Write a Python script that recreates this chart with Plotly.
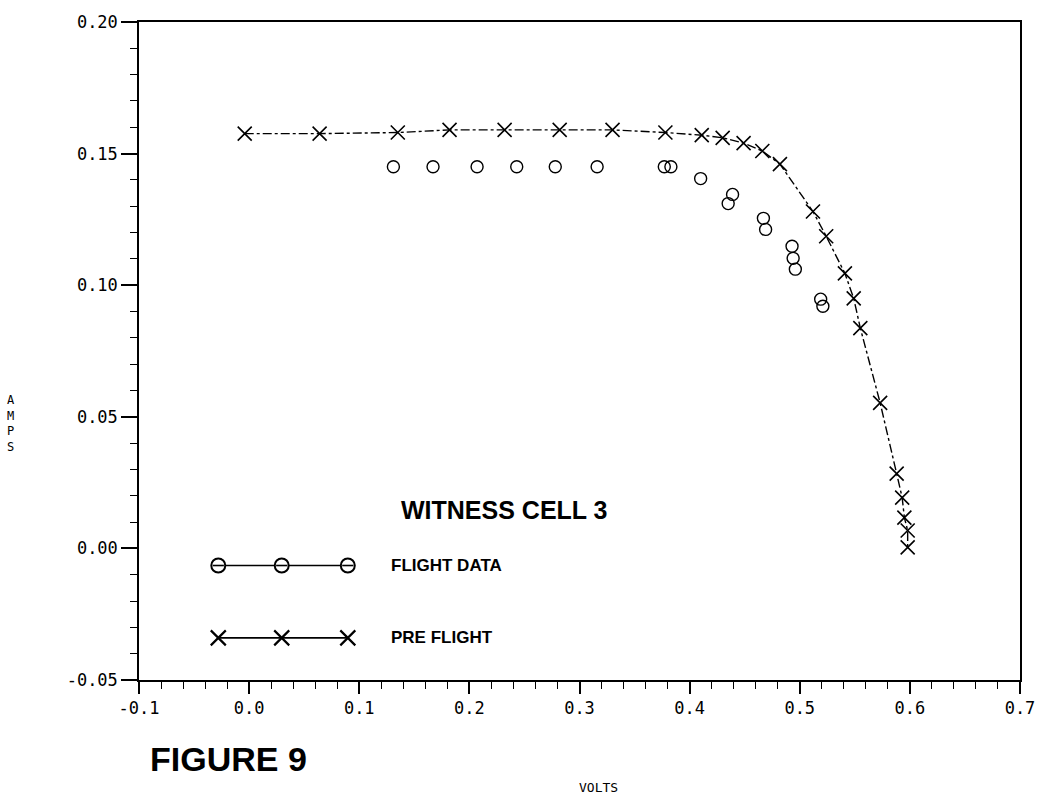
import plotly.graph_objects as go

# ---------------- data ----------------
pre_volts = [-0.004, 0.064, 0.135, 0.182, 0.232, 0.282, 0.330, 0.378, 0.411, 0.430,
             0.449, 0.466, 0.482, 0.512, 0.524, 0.541, 0.549, 0.555, 0.573, 0.588,
             0.593, 0.595, 0.598, 0.598]
pre_amps = [0.1576, 0.1576, 0.158, 0.159, 0.159, 0.159, 0.159, 0.158, 0.157, 0.156,
            0.154, 0.151, 0.146, 0.128, 0.1186, 0.1045, 0.095, 0.0837, 0.0553, 0.0284,
            0.0193, 0.0117, 0.0068, 0.0004]

flight_volts = [0.131, 0.167, 0.207, 0.243, 0.278, 0.316, 0.377, 0.383, 0.410, 0.439,
                0.435, 0.467, 0.469, 0.493, 0.494, 0.496, 0.519, 0.521]
flight_amps = [0.145, 0.145, 0.145, 0.145, 0.145, 0.145, 0.145, 0.145, 0.1405, 0.1345,
               0.131, 0.1254, 0.1212, 0.1148, 0.1102, 0.1061, 0.0947, 0.092]

x_tickvals = [-0.1, 0.0, 0.1, 0.2, 0.3, 0.4, 0.5, 0.6, 0.7]
x_ticktext = ["-0.1", "0.0", "0.1", "0.2", "0.3", "0.4", "0.5", "0.6", "0.7"]
y_tickvals = [-0.05, 0.0, 0.05, 0.10, 0.15, 0.20]
y_ticktext = ["-0.05", "0.00", "0.05", "0.10", "0.15", "0.20"]

# legend sample layout (fractions of the plot area)
leg_x = [0.09, 0.162, 0.237]
leg_y_flight = 0.174
leg_y_pre = 0.064

mono = "DejaVu Sans Mono"
fig = go.Figure()

fig.add_trace(go.Scatter(
    x=pre_volts, y=pre_amps, mode="lines+markers",
    line=dict(color="black", width=1.4, dash="dashdot"),
    marker=dict(symbol="x-thin-open", size=14, line=dict(color="black", width=1.6)),
    showlegend=False, hoverinfo="skip"))

fig.add_trace(go.Scatter(
    x=flight_volts, y=flight_amps, mode="markers",
    marker=dict(symbol="circle-open", size=12, color="black", line=dict(color="black", width=1.4)),
    showlegend=False, hoverinfo="skip"))

# legend glyphs on overlay axes
fig.add_trace(go.Scatter(
    x=leg_x, y=[leg_y_flight] * 3, xaxis="x2", yaxis="y2", mode="lines+markers",
    line=dict(color="black", width=1.6),
    marker=dict(symbol="circle", size=14, color="white", line=dict(color="black", width=2)),
    showlegend=False, hoverinfo="skip"))
fig.add_trace(go.Scatter(
    x=leg_x, y=[leg_y_flight] * 3, xaxis="x2", yaxis="y2", mode="markers",
    marker=dict(symbol="line-ew", size=8, line=dict(color="black", width=1.6)),
    showlegend=False, hoverinfo="skip"))
fig.add_trace(go.Scatter(
    x=leg_x, y=[leg_y_pre] * 3, xaxis="x2", yaxis="y2", mode="lines+markers",
    line=dict(color="black", width=1.6),
    marker=dict(symbol="x-thin-open", size=15, line=dict(color="black", width=2.2)),
    showlegend=False, hoverinfo="skip"))

axis_common = dict(showgrid=False, zeroline=False, showline=True, linecolor="black",
                   linewidth=1.5, mirror=True, ticks="outside", tickcolor="black",
                   tickwidth=1.5, tickfont=dict(family=mono, size=17, color="black"))

fig.update_layout(
    width=1047, height=802,
    margin=dict(l=139, r=27, t=20, b=122),
    paper_bgcolor="white", plot_bgcolor="white",
    xaxis=dict(range=[-0.1, 0.7], tickvals=x_tickvals, ticktext=x_ticktext, ticklen=12,
               minor=dict(dtick=0.02, ticklen=7, ticks="outside", tickcolor="black", tickwidth=1.2),
               **axis_common),
    yaxis=dict(range=[-0.05, 0.20], tickvals=y_tickvals, ticktext=y_ticktext, ticklen=16,
               minor=dict(dtick=0.01, ticklen=7, ticks="outside", tickcolor="black", tickwidth=1.2),
               **axis_common),
    xaxis2=dict(overlaying="x", range=[0, 1], visible=False),
    yaxis2=dict(overlaying="y", range=[0, 1], visible=False),
    annotations=[
        dict(text="WITNESS CELL 3", x=0.415, y=0.258, xref="paper", yref="paper",
             showarrow=False, xanchor="center", yanchor="middle",
             font=dict(family="Liberation Sans", size=25, color="black", weight="bold")),
        dict(text="FLIGHT DATA", x=0.284, y=leg_y_flight, xref="paper", yref="paper",
             showarrow=False, xanchor="left", yanchor="middle",
             font=dict(family="Liberation Sans", size=17, color="black", weight="bold")),
        dict(text="PRE FLIGHT", x=0.284, y=leg_y_pre, xref="paper", yref="paper",
             showarrow=False, xanchor="left", yanchor="middle",
             font=dict(family="Liberation Sans", size=17, color="black", weight="bold")),
        dict(text="A<br>M<br>P<br>S", x=-0.145, y=0.39, xref="paper", yref="paper",
             showarrow=False, xanchor="center", yanchor="middle",
             font=dict(family=mono, size=12, color="black")),
        dict(text="VOLTS", x=0.521, y=-0.163, xref="paper", yref="paper",
             showarrow=False, xanchor="center", yanchor="middle",
             font=dict(family=mono, size=13, color="black")),
        dict(text="FIGURE 9", x=0.01, y=-0.12, xref="paper", yref="paper",
             showarrow=False, xanchor="left", yanchor="middle",
             font=dict(family="Liberation Sans", size=34, color="black", weight="bold")),
    ],
)

fig.write_html("out.html")
